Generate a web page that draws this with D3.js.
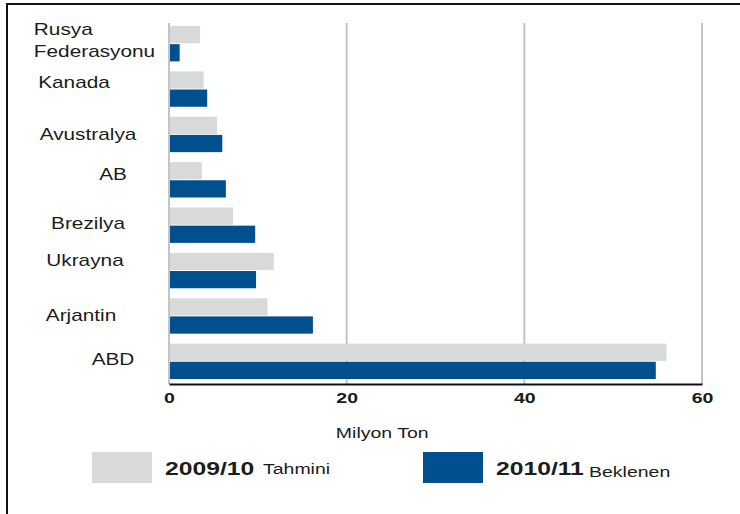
<!DOCTYPE html>
<meta charset="utf-8">
<style>
body { margin: 0; background: #fff; }
text { font-family: "Liberation Sans", Arial, sans-serif; fill: #1c1c1c; }
</style>
<body>
<script src="https://d3js.org/d3.v7.min.js"></script>
<script>

// data (Milyon Ton)
var countries = ["Rusya Federasyonu", "Kanada", "Avustralya", "AB", "Brezilya", "Ukrayna", "Arjantin", "ABD"];
var est0910 = [3.5, 3.9, 5.4, 3.7, 7.2, 11.8, 11.1, 56.0];
var exp1011 = [1.2, 4.3, 6.0, 6.4, 9.7, 9.8, 16.2, 54.8];
var xTicks = [0, 20, 40, 60];
var seriesNames = ["2009/10", "2010/11"];
var seriesNotes = ["Tahmini", "Beklenen"];
var axisTitle = "Milyon Ton";

var colors = ["#d8d9db", "#00508f"];
var stretch = "scale(1.3,1)";   // the original text is drawn wide

// the category labels sit a little unevenly in the original: [dx, dy] nudges
var labelNudge = [[0, 0], [-14, -4], [0, 3], [25, -2], [0, 1], [-3, -7], [-7, 2], [25, 1]];

var W = 740, H = 514;
var margin = {top: 21, right: 38, bottom: 130, left: 169},
    width = W - margin.left - margin.right,
    height = H - margin.top - margin.bottom;

var svg = d3.select("body").append("svg")
    .attr("width", W)
    .attr("height", H);

// frame lines (top and left only)
svg.append("line").attr("x1", 6).attr("x2", W).attr("y1", 4).attr("y2", 4)
    .attr("stroke", "#111").attr("stroke-width", 2);
svg.append("line").attr("x1", 7).attr("x2", 7).attr("y1", 4).attr("y2", H)
    .attr("stroke", "#111").attr("stroke-width", 2);

var g = svg.append("g")
    .attr("transform", "translate(" + margin.left + "," + margin.top + ")");

var x = d3.scaleLinear().domain([0, 60]).range([0, width]);
var y = d3.scaleBand().domain(countries).range([0, height])
    .paddingInner(0.22).paddingOuter(0.11);
var y1 = d3.scaleBand().domain([0, 1]).range([0, y.bandwidth()]).paddingInner(0.05);

// vertical grid lines
g.append("g").selectAll("line")
    .data(xTicks)
  .enter().append("line")
    .attr("x1", function(d) { return x(d); })
    .attr("x2", function(d) { return x(d); })
    .attr("y1", 2)
    .attr("y2", height)
    .attr("stroke", "#c4c4c4")
    .attr("stroke-width", 2);

// bars
var rows = countries.map(function(c, i) { return {name: c, vals: [est0910[i], exp1011[i]], i: i}; });

var grp = g.selectAll(".grp")
    .data(rows)
  .enter().append("g")
    .attr("class", "grp")
    .attr("transform", function(d) { return "translate(0," + y(d.name) + ")"; });

grp.selectAll("rect")
    .data(function(d) { return d.vals; })
  .enter().append("rect")
    .attr("x", x(0) + 1)
    .attr("y", function(d, i) { return y1(i); })
    .attr("height", y1.bandwidth())
    .attr("width", function(d) { return x(d) - x(0) - 1; })
    .attr("fill", function(d, i) { return colors[i]; });

// category labels
grp.append("text")
    .attr("transform", function(d) {
      var n = labelNudge[d.i];
      return "translate(" + (-81 + n[0]) + "," + (y.bandwidth() / 2 - 3 + n[1]) + ")" + stretch;
    })
    .attr("text-anchor", "middle")
    .attr("dy", "0.35em")
    .style("font-size", "16px")
    .each(function(d) {
      var parts = d.name.split(" ");
      var t = d3.select(this);
      if (parts.length == 1) { t.text(d.name); return; }
      t.append("tspan").attr("x", -19).attr("dy", "-0.35em").text(parts[0]);
      t.append("tspan").attr("x", 5).attr("dy", "1.35em").text(parts[1]);
    });

// x axis
var xAxis = g.append("g")
    .attr("transform", "translate(0," + height + ")")
    .call(d3.axisBottom(x).tickValues(xTicks).tickSize(0).tickPadding(8));
xAxis.select(".domain").attr("stroke", "#111").attr("stroke-width", 2.2);
xAxis.selectAll("text")
    .attr("transform", stretch)
    .style("font-size", "15px")
    .style("font-weight", "bold")
    .style("fill", "#1a1a1a")
    .style("font-family", "'Liberation Sans', Arial, sans-serif");

// axis title
g.append("text")
    .attr("transform", "translate(" + x(24) + "," + (height + 54) + ")" + stretch)
    .attr("text-anchor", "middle")
    .style("font-size", "15px")
    .text(axisTitle);

// legend
var legend = svg.selectAll(".legend")
    .data(seriesNames)
  .enter().append("g")
    .attr("class", "legend")
    .attr("transform", function(d, i) { return "translate(" + (92 + i * 331) + ",452)"; });

legend.append("rect")
    .attr("width", 60)
    .attr("height", 31)
    .attr("fill", function(d, i) { return colors[i]; });

legend.append("text")
    .attr("transform", "translate(73,23)" + stretch)
    .style("font-size", "19px")
    .style("font-weight", "bold")
    .text(function(d) { return d; });

legend.append("text")
    .attr("transform", function(d, i) { return "translate(" + (i == 0 ? 171 : 166) + "," + (i == 0 ? 22 : 25) + ")" + stretch; })
    .style("font-size", "15px")
    .text(function(d, i) { return seriesNotes[i]; });

</script>
</body>
